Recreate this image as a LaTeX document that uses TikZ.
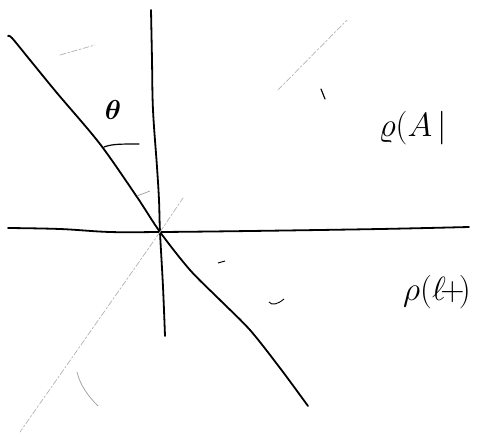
\documentclass[tikz,border=0pt]{standalone}
\usepackage{amsmath}
\begin{document}
\begin{tikzpicture}[x=1pt,y=-1pt,
  ink/.style={line width=1.8pt,line cap=round,line join=round,black},
  thin ink/.style={line width=1.2pt,line cap=round,black},
  faint/.style={line width=0.7pt,gray!60,dash pattern=on 6pt off 2pt on 2pt off 2pt,line cap=round},
  hand/.style={font=\Huge,inner sep=0pt,scale=1.35}]
\useasboundingbox (0,0) rectangle (488,434);
\coordinate (O) at (160,232);
% horizontal axis
\coordinate (hl) at (8,228);
\coordinate (hr) at (469,227);
\draw[ink] plot[smooth,tension=0.6] coordinates {(hl) (60,229) (110,232) (O) (250,231) (380,229) (hr)};
% vertical axis
\coordinate (vt) at (151,10);
\coordinate (vb) at (165,336);
\draw[ink] plot[smooth,tension=0.6] coordinates {(vt) (152,60) (153,110) (157,167) (159,200) (O) (163,287) (vb)};
% diagonal
\coordinate (dl) at (8,36);
\coordinate (dr) at (308,406);
\draw[ink] plot[smooth,tension=0.5] coordinates {(dl) (12,38) (30,60) (57,93) (100,144) (137,197) (O) (190,270) (220,300) (250,330) (280,368) (dr)};
% faint dotted diagonal
\coordinate (fa) at (183,198);
\coordinate (fb) at (278,90);
\coordinate (fc) at (347,20);
\coordinate (fd) at (20,432);
\draw[faint] (O) -- (fa);
\draw[faint] (fb) -- (fc);
\draw[faint] (O) -- (fd);
% angle marks
\coordinate (m1a) at (104,147);
\coordinate (m1b) at (139,144);
\draw[thin ink] (m1a) .. controls (112,144) and (120,144) .. (m1b);
\coordinate (m2a) at (137,196);
\coordinate (m2b) at (150,191);
\draw[line width=0.8pt,gray!70] (m2a) -- (m2b);
% small marks
\coordinate (t1a) at (321,89);
\coordinate (t1b) at (325,99);
\draw[thin ink] (t1a) -- (t1b);
\coordinate (t2a) at (269,302);
\coordinate (t2b) at (284,299);
\draw[line width=0.9pt] (t2a) .. controls (272,306) and (278,304) .. (t2b);
\coordinate (t3a) at (218,263);
\coordinate (t3b) at (225,261);
\draw[line width=0.9pt] (t3a) -- (t3b);
\coordinate (t4a) at (77,372);
\coordinate (t4b) at (98,406);
\draw[line width=0.8pt,gray!70] (t4a) .. controls (80,385) and (88,396) .. (t4b);
\coordinate (t5a) at (60,55);
\coordinate (t5b) at (95,45);
\draw[faint] (t5a) -- (t5b);
% theta
\node[font=\Huge,inner sep=0pt,scale=1.1] (theta) at (113,110) {$\boldsymbol{\theta}$};
% labels
\node[hand] (rA) at (413,128) {$\varrho(A\,|$};
\node[hand] (rC) at (437,292) {$\rho(\ell\!+\!)$};
\end{tikzpicture}
\end{document}
